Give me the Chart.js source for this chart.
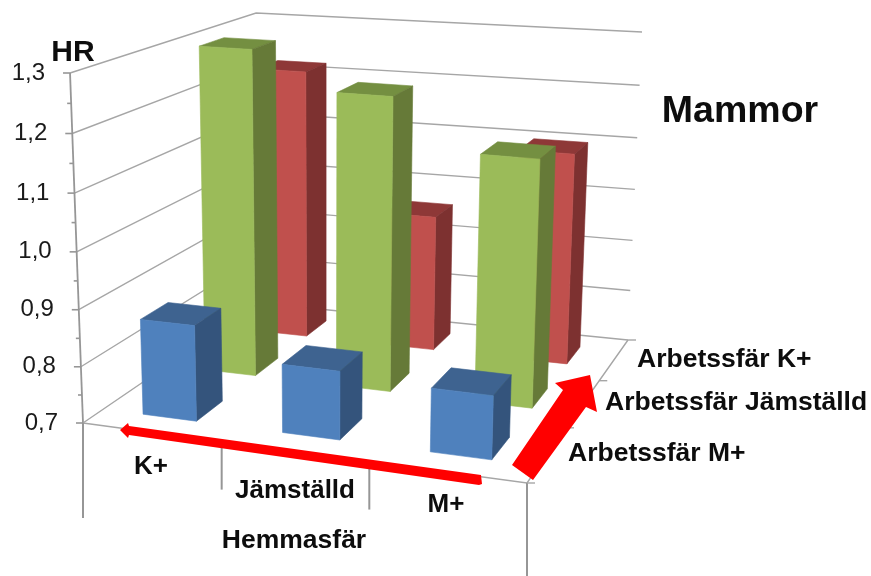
<!DOCTYPE html>
<html><head><meta charset="utf-8">
<style>html,body{margin:0;padding:0;background:#fff}canvas{display:block}</style>
<script src="https://cdn.jsdelivr.net/npm/chart.js@4/dist/chart.umd.js"></script>
</head><body><canvas id="c" width="871" height="576"></canvas>
<script>
const categories = ['K+', 'Jämställd', 'M+'];
const seriesNames = ['Arbetssfär M+', 'Arbetssfär Jämställd', 'Arbetssfär K+'];
const valuesMPlus = [0.87, 0.82, 0.81];
const valuesJamstalld = [1.30, 1.234, 1.145];
const valuesKPlus = [1.22, 0.96, 1.10];
const axisTitle = 'HR';
const chartTitle = 'Mammor';
const groupTitle = 'Hemmasfär';

// Box projection
const FLOOR = [[83,423],[527,483],[628,340],[259,303]];
const CEIL  = [[70,73],[536,111],[642,32],[256,13]];
const VP = [326,6979];
function homography(p){
  const [x0,y0]=p[0],[x1,y1]=p[1],[x2,y2]=p[2],[x3,y3]=p[3];
  const dx1=x1-x2,dx2=x3-x2,sx=x0-x1+x2-x3,dy1=y1-y2,dy2=y3-y2,sy=y0-y1+y2-y3;
  const den=dx1*dy2-dx2*dy1,g=(sx*dy2-dx2*sy)/den,h=(dx1*sy-sx*dy1)/den;
  const a=x1-x0+g*x1,b=x3-x0+h*x3,d=y1-y0+g*y1,e=y3-y0+h*y3;
  return (u,v)=>{const w=g*u+h*v+1;return [(a*u+b*v+x0)/w,(d*u+e*v+y0)/w];};
}
const HF=homography(FLOOR),HC=homography(CEIL);
function project(yScale,u,v,val){
  const t=(yScale.bottom-yScale.getPixelForValue(val))/(yScale.bottom-yScale.top);
  const a=HF(u,v),yTop=HC(u,v)[1];
  const py=a[1]+(yTop-a[1])*t;
  return [VP[0]+(a[0]-VP[0])*(VP[1]-py)/(VP[1]-a[1]),py];
}
function warp(d){return d/(d+(1-d)*1.045);}

class PerspectiveScale extends Chart.LinearScale{
  getPixelForDecimal(d){return super.getPixelForDecimal(warp(d));}
  _computeLabelItems(area){
    const items=super._computeLabelItems(area);
    const b=this.bottom,t=this.top;
    items.forEach(it=>{
      const y=it.options.translation[1];
      const f=(b-y)/(b-t);
      it.options.translation[0]=58+(45-58)*f;
    });
    return items;
  }
}
PerspectiveScale.id='perspective';
PerspectiveScale.defaults=Chart.LinearScale.defaults;

const BAR_W=0.395,BAR_D=0.42;
const U_SHIFT=[-0.001,0.0025,0.002];
class Bar3DController extends Chart.BarController{
  draw(){
    const ctx=this.chart.ctx,y=this._cachedMeta.vScale,x=this._cachedMeta.iScale;
    const ds=this.getDataset(),n=this.chart.data.datasets.length;
    const v0=(this.index+.5)/n-BAR_D/n/2,v1=(this.index+.5)/n+BAR_D/n/2;
    const cnt=x.getLabels().length;
    const poly=(pts,c)=>{ctx.beginPath();pts.forEach((p,i)=>i?ctx.lineTo(p[0],p[1]):ctx.moveTo(p[0],p[1]));ctx.closePath();ctx.fillStyle=c;ctx.fill();ctx.lineWidth=.6;ctx.strokeStyle=c;ctx.stroke();};
    ds.data.forEach((val,i)=>{
      const c=(i+.5)/cnt+U_SHIFT[i],u0=c-BAR_W/cnt/2,u1=c+BAR_W/cnt/2,b=y.min;
      const P=(u,v,w)=>project(y,u,v,w);
      poly([P(u0,v0,val),P(u1,v0,val),P(u1,v1,val),P(u0,v1,val)],ds.topColor);
      poly([P(u1,v0,b),P(u1,v1,b),P(u1,v1,val),P(u1,v0,val)],ds.sideColor);
      poly([P(u0,v0,b),P(u1,v0,b),P(u1,v0,val),P(u0,v0,val)],ds.backgroundColor);
    });
  }
}
Bar3DController.id='bar3d';
Bar3DController.defaults=Chart.BarController.defaults;
Bar3DController.overrides=Chart.BarController.overrides;
Chart.register(PerspectiveScale,Bar3DController);

const GRID='#a6a6a6',AXIS='#969696';
function line(ctx,pts,c,w){ctx.beginPath();pts.forEach((p,i)=>i?ctx.lineTo(p[0],p[1]):ctx.moveTo(p[0],p[1]));ctx.strokeStyle=c;ctx.lineWidth=w;ctx.stroke();}
const frame={
  id:'frame',
  beforeDatasetsDraw(chart){
    const ctx=chart.ctx,y=chart.scales.y;
    ctx.save();ctx.lineCap='butt';
    const P=(u,v,w)=>project(y,u,v,w);
    y.ticks.forEach(t=>{
      const major=Math.round(t.value*100)%10===0,a=P(0,0,t.value);
      line(ctx,[[a[0]-(major?7:4),a[1]],a],AXIS,1.6);
      if(major)line(ctx,[a,P(0,1,t.value),P(1,1,t.value)],GRID,1.4);
    });
    line(ctx,[P(0,0,y.min),P(0,0,y.max)],AXIS,1.8);
    line(ctx,[P(0,0,y.min),P(1,0,y.min),P(1,1,y.min)],GRID,1.4);
    const n=categories.length,m=seriesNames.length;
    for(let i=0;i<=n;i++){
      const a=P(i/n,0,y.min),len=i===0?95:i===n?93:48;
      const dx=(i===0||i===n)?0:1;
      line(ctx,[[a[0]+dx,a[1]],[a[0]+dx,a[1]+len]],AXIS,2);
    }
    for(let j=0;j<=m;j++){
      const a=P(1,j/m,y.min);
      line(ctx,[a,[a[0]+8,a[1]]],GRID,1.4);
    }
    ctx.restore();
  },
  afterDatasetsDraw(chart){
    const ctx=chart.ctx;ctx.save();
    ctx.fillStyle='#ff0000';
    ctx.beginPath();[[120,430],[128,423],[129,426],[481,475],[482,484],[479,485],[129,435],[128,438]].forEach((p,i)=>i?ctx.lineTo(p[0],p[1]):ctx.moveTo(p[0],p[1]));ctx.closePath();ctx.fill();
    ctx.beginPath();[[512,465],[563,390],[555,383],[590,375],[597,412],[586,407],[533,480]].forEach((p,i)=>i?ctx.lineTo(p[0],p[1]):ctx.moveTo(p[0],p[1]));ctx.closePath();ctx.fill();
    const T=(s,x,y,sz,al)=>{ctx.font='bold '+sz+'px "Liberation Sans"';ctx.textAlign=al||'center';ctx.textBaseline='middle';ctx.fillStyle='#0d0d0d';ctx.fillText(s,x,y);};
    T(axisTitle,73,53,30);
    T(chartTitle,740,112,37.5);
    T(categories[0],151,467,26);
    T(categories[1],295,491,26);
    T(categories[2],446,505,26);
    T(groupTitle,294,541,26.5);
    T(seriesNames[2],637,360,26.5,'left');
    T(seriesNames[1],605,403,26.5,'left');
    T(seriesNames[0],568,454,26.5,'left');
    ctx.restore();
  }
};

new Chart(document.getElementById('c'),{
  type:'bar3d',
  data:{labels:categories,datasets:[
    {label:seriesNames[0],data:valuesMPlus,backgroundColor:'#4f81bd',topColor:'#3e6390',sideColor:'#34547c',clip:false},
    {label:seriesNames[1],data:valuesJamstalld,backgroundColor:'#9bbb59',topColor:'#748f41',sideColor:'#667a38',clip:false},
    {label:seriesNames[2],data:valuesKPlus,backgroundColor:'#c0504d',topColor:'#8e3837',sideColor:'#7d3130',clip:false}
  ]},
  options:{
    responsive:false,animation:false,
    layout:{padding:{top:73,bottom:153,left:0,right:200}},
    plugins:{legend:{display:false},title:{display:false},tooltip:{enabled:false}},
    scales:{
      x:{type:'category',display:false},
      y:{type:'perspective',min:0.7,max:1.3,
        grid:{display:false},border:{display:false},
        afterFit(s){s.width=60;},
        ticks:{stepSize:0.05,autoSkip:false,color:'#1a1a1a',font:{family:'"Liberation Sans"',size:24},padding:0,
          callback:v=>Math.round(v*100)%10===0?v.toFixed(1).replace('.',','):''}
      }
    }
  },
  plugins:[frame]
});
</script></body></html>
